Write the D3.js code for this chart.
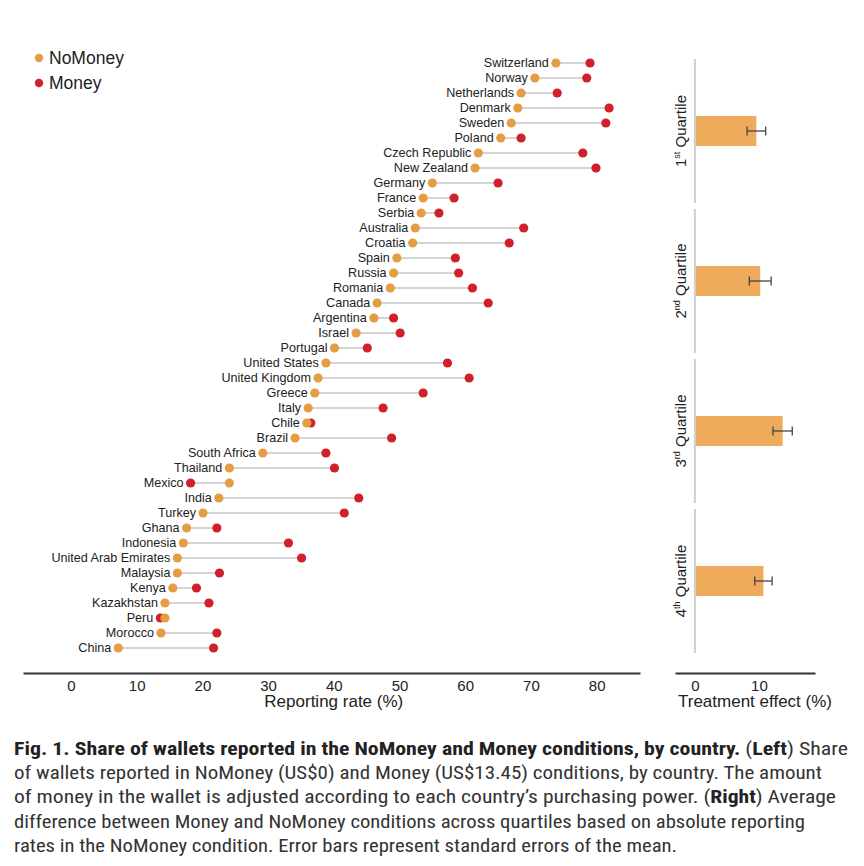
<!DOCTYPE html>
<html>
<head>
<meta charset="utf-8">
<script src="https://cdn.jsdelivr.net/npm/d3@7/dist/d3.min.js"></script>
<style>
    body { margin: 0; background: #fff; }
    svg { display: block; font-family: "Liberation Sans", Arial, sans-serif; }
    .country-label { font-size: 12.6px; fill: #222; }
    .tick-label { font-size: 15px; fill: #222; }
    .axis-title { font-size: 17px; fill: #222; }
    .legend-label { font-size: 17.5px; fill: #222; }
    .quartile-label { font-size: 15px; fill: #222; }
    .caption { font-family: "Liberation Sans Narrow", "Roboto Condensed", "Liberation Sans", sans-serif; font-size: 19px; fill: #333; }
</style>
</head>
<body>
<div id="chart"></div>
<script>
const countries = ['Switzerland', 'Norway', 'Netherlands', 'Denmark', 'Sweden', 'Poland', 'Czech Republic',
    'New Zealand', 'Germany', 'France', 'Serbia', 'Australia', 'Croatia', 'Spain', 'Russia', 'Romania',
    'Canada', 'Argentina', 'Israel', 'Portugal', 'United States', 'United Kingdom', 'Greece', 'Italy',
    'Chile', 'Brazil', 'South Africa', 'Thailand', 'Mexico', 'India', 'Turkey', 'Ghana', 'Indonesia',
    'United Arab Emirates', 'Malaysia', 'Kenya', 'Kazakhstan', 'Peru', 'Morocco', 'China'];

const noMoney = [73.8, 70.6, 68.5, 68.0, 67.0, 65.4, 62.0,
    61.5, 55.0, 53.6, 53.3, 52.4, 52.0, 49.6, 49.1, 48.6,
    46.6, 46.1, 43.4, 40.1, 38.8, 37.6, 37.1, 36.1,
    35.9, 34.1, 29.2, 24.1, 24.1, 22.5, 20.1, 17.6, 17.1,
    16.2, 16.2, 15.5, 14.3, 14.3, 13.7, 7.2];

const money = [79.0, 78.5, 74.0, 81.9, 81.4, 68.5, 77.9,
    79.9, 65.0, 58.3, 56.0, 68.9, 66.7, 58.5, 59.0, 61.1,
    63.5, 49.1, 50.1, 45.1, 57.3, 60.6, 53.6, 47.5,
    36.5, 48.8, 38.8, 40.1, 18.2, 43.8, 41.6, 22.2, 33.1,
    35.1, 22.6, 19.1, 21.0, 13.6, 22.2, 21.7];

const quartiles = [['1', 'st'], ['2', 'nd'], ['3', 'rd'], ['4', 'th']];
const treatmentEffect = [9.6, 10.2, 13.7, 10.7];
const treatmentSe = [1.45, 1.7, 1.5, 1.35];

const rateTicks = [0, 10, 20, 30, 40, 50, 60, 70, 80];
const effectTicks = [0, 10];

const captionLines = [
    [['Fig. 1. Share of wallets reported in the NoMoney and Money conditions, by country.', true], [' (', false], ['Left', true], [') Share', false]],
    [['of wallets reported in NoMoney (US$0) and Money (US$13.45) conditions, by country. The amount', false]],
    [['of money in the wallet is adjusted according to each country\u2019s purchasing power. (', false], ['Right', true], [') Average', false]],
    [['difference between Money and NoMoney conditions across quartiles based on absolute reporting', false]],
    [['rates in the NoMoney condition. Error bars represent standard errors of the mean.', false]]
];
const captionWidths = [834, 808, 822, 791, 663];

const colors = { noMoney: '#e59d43', money: '#d0202c', bar: '#eeab5c', link: '#d4d4d4', axis: '#333' };

const width = 864;
const height = 866;

const svg = d3.select('#chart')
    .append('svg')
    .attr('width', width)
    .attr('height', height);

// left panel: dumbbell chart
const x = d3.scaleLinear().domain([-7.3, 86.6]).range([23, 640]);
const y = d3.scalePoint().domain(countries).range([63, 648]);
const rows = countries.map((name, i) => ({ name, noMoney: noMoney[i], money: money[i] }));

svg.append('g')
    .selectAll('line')
    .data(rows)
    .join('line')
    .attr('x1', d => x(d.noMoney))
    .attr('x2', d => x(d.money))
    .attr('y1', d => y(d.name))
    .attr('y2', d => y(d.name))
    .attr('stroke', colors.link)
    .attr('stroke-width', 2);

svg.append('g')
    .selectAll('circle')
    .data(rows)
    .join('circle')
    .attr('cx', d => x(d.money))
    .attr('cy', d => y(d.name))
    .attr('r', 4.6)
    .attr('fill', colors.money);

svg.append('g')
    .selectAll('circle')
    .data(rows)
    .join('circle')
    .attr('cx', d => x(d.noMoney))
    .attr('cy', d => y(d.name))
    .attr('r', 4.6)
    .attr('fill', colors.noMoney);

svg.append('g')
    .selectAll('text')
    .data(rows)
    .join('text')
    .attr('class', 'country-label')
    .attr('x', d => x(Math.min(d.noMoney, d.money)) - 7)
    .attr('y', d => y(d.name))
    .attr('dy', '0.35em')
    .attr('text-anchor', 'end')
    .text(d => d.name);

const rateAxis = svg.append('g')
    .attr('transform', 'translate(0,673)')
    .call(d3.axisBottom(x).tickValues(rateTicks).tickSize(0).tickPadding(7));
rateAxis.select('.domain').attr('stroke', colors.axis).attr('stroke-width', 2);
rateAxis.selectAll('text').attr('class', 'tick-label').attr('font-family', null).attr('font-size', null);

svg.append('text')
    .attr('class', 'axis-title')
    .attr('x', x(40))
    .attr('y', 707)
    .attr('text-anchor', 'middle')
    .text('Reporting rate (%)');

// legend
const legend = svg.append('g').attr('transform', 'translate(39,57)');
[['NoMoney', colors.noMoney], ['Money', colors.money]].forEach(([label, color], i) => {
    const item = legend.append('g').attr('transform', `translate(0,${i * 25})`);
    item.append('circle').attr('r', 4.2).attr('cy', 1).attr('fill', color);
    item.append('text')
        .attr('class', 'legend-label')
        .attr('x', 10)
        .attr('y', 1)
        .attr('dy', '0.35em')
        .text(label);
});

// right panel: treatment effect by quartile
const xr = d3.scaleLinear().domain([-3.1, 18.75]).range([675, 815]);
const band = d3.scaleBand().domain(quartiles.map(q => q[0])).range([56, 656]);
const bars = quartiles.map((q, i) => ({ key: q[0], suffix: q[1], value: treatmentEffect[i], se: treatmentSe[i] }));

const groups = svg.append('g')
    .selectAll('g')
    .data(bars)
    .join('g')
    .attr('transform', d => `translate(0,${band(d.key)})`);

groups.append('line')
    .attr('x1', xr(0))
    .attr('x2', xr(0))
    .attr('y1', 3)
    .attr('y2', band.bandwidth() - 3)
    .attr('stroke', '#cfcfcf')
    .attr('stroke-width', 2);

const mid = band.bandwidth() / 2;
groups.append('rect')
    .attr('x', xr(0) + 1)
    .attr('y', mid - 15)
    .attr('width', d => xr(d.value) - xr(0) - 1)
    .attr('height', 30)
    .attr('fill', colors.bar);

groups.append('line')
    .attr('x1', d => xr(d.value - d.se))
    .attr('x2', d => xr(d.value + d.se))
    .attr('y1', mid)
    .attr('y2', mid)
    .attr('stroke', '#444')
    .attr('stroke-width', 1.3);

[d => xr(d.value - d.se), d => xr(d.value + d.se)].forEach(pos => {
    groups.append('line')
        .attr('x1', pos)
        .attr('x2', pos)
        .attr('y1', mid - 4.5)
        .attr('y2', mid + 4.5)
        .attr('stroke', '#444')
        .attr('stroke-width', 1.3);
});

const qLabel = groups.append('text')
    .attr('class', 'quartile-label')
    .attr('transform', `translate(${xr(0) - 9},${mid}) rotate(-90)`)
    .attr('text-anchor', 'middle');
qLabel.append('tspan').text(d => d.key);
qLabel.append('tspan').attr('dy', -6).attr('font-size', '9px').text(d => d.suffix);
qLabel.append('tspan').attr('dy', 6).text(' Quartile');

const effectAxis = svg.append('g')
    .attr('transform', 'translate(0,673)')
    .call(d3.axisBottom(xr).tickValues(effectTicks).tickSize(0).tickPadding(7));
effectAxis.select('.domain').attr('stroke', colors.axis).attr('stroke-width', 2);
effectAxis.selectAll('text').attr('class', 'tick-label').attr('font-family', null).attr('font-size', null);

svg.append('text')
    .attr('class', 'axis-title')
    .attr('x', 755)
    .attr('y', 707)
    .attr('text-anchor', 'middle')
    .text('Treatment effect (%)');

// caption
captionLines.forEach((parts, i) => {
    const line = svg.append('text')
        .attr('class', 'caption')
        .attr('x', 14)
        .attr('y', 755 + i * 24.2)
        .attr('textLength', captionWidths[i])
        .attr('lengthAdjust', 'spacingAndGlyphs');
    parts.forEach(([text, bold]) => {
        line.append('tspan')
            .attr('font-weight', bold ? 'bold' : null)
            .attr('fill', bold ? '#222' : null)
            .text(text);
    });
});
</script>
</body>
</html>
